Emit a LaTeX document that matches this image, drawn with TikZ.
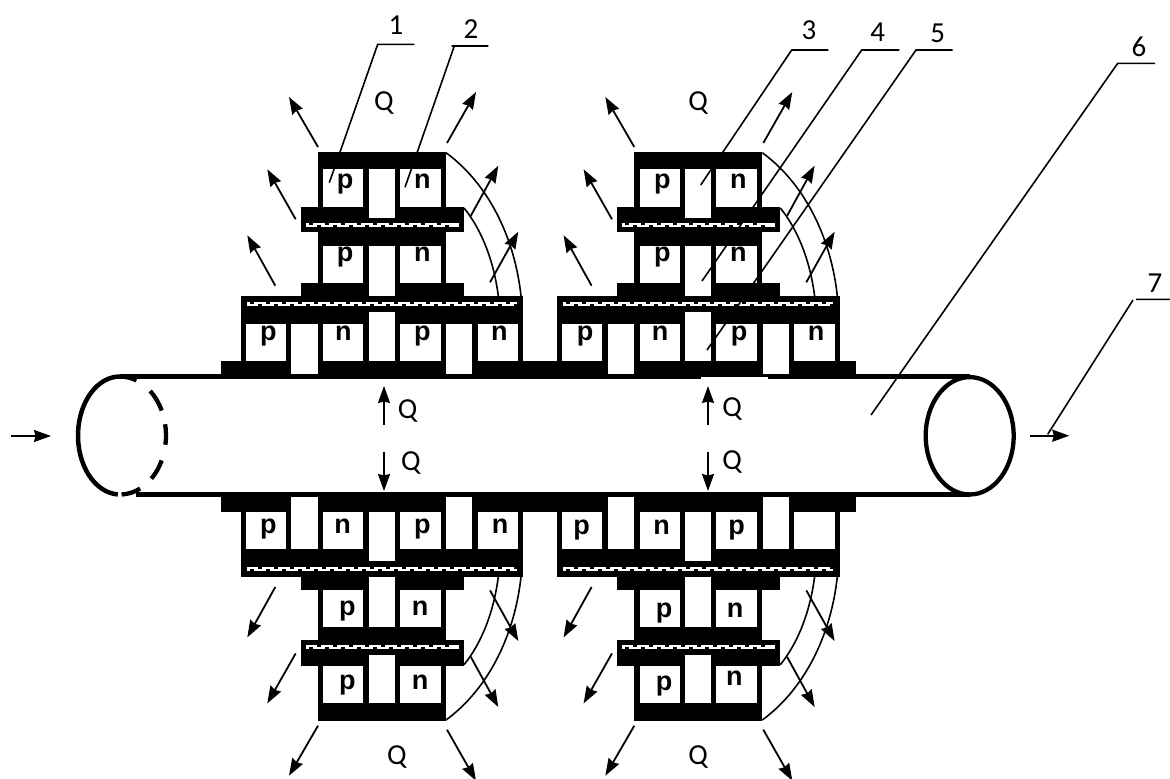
\documentclass[tikz,border=0pt]{standalone}
\usepackage{fontspec}
\setmainfont{Carlito}
\newfontfamily\pnfont{Liberation Sans}[BoldFont={Liberation Sans Bold}]
\usetikzlibrary{arrows, arrows.meta}

\tikzset{
  heatarrow/.style={line width=1.8pt,-{Stealth[length=17pt,width=12pt,inset=1.5pt]}},
  leader/.style={line width=1.6pt},
  wire/.style={line width=1.6pt},
  tube/.style={line width=5pt},
  pnlabel/.style={anchor=base,inner sep=0pt,font=\pnfont\bfseries\fontsize{27}{27}\selectfont},
  txtlabel/.style={inner sep=0pt,font=\fontsize{29}{29}\selectfont}
}

% one thermopile, drawn in pixel coordinates
\newcommand{\serration}[3]{%
  \fill[white] (#1,#3) rectangle (#2,#3+4);
  \pgfmathsetmacro{\serlast}{#2-14}
  \pgfmathsetmacro{\sernext}{#1+16}
  \foreach \sx in {#1,\sernext,...,\serlast}{
    \fill[black] (\sx+3,#3) rectangle (\sx+7,#3+2);
    \fill[black] (\sx+11,#3+2) rectangle (\sx+15,#3+4);
  }
}
\newcommand{\module}{%
  \fill[black] (318,152) rectangle (446,207); %top cap
  \fill[black] (300.7,207) rectangle (464,232.3); %plate
  \fill[black] (318,232) rectangle (446,283);
  \fill[black] (300.7,283) rectangle (464,296);
  \fill[black] (240.7,296) rectangle (523.3,361); %big plate
  \fill[black] (220.7,361) rectangle (540,376); %base
  % cells and gaps
  \foreach \xa/\xb/\ya/\yb in {323.3/363.3/169.3/206.7, 400/440.7/169.3/206.7, 369/395/169.3/217.7,
    323.3/363.3/245.7/282.7, 400/440.7/245.7/282.7, 369/395/245.7/296,
    245.7/286/324/361, 291.3/317.7/324/375.5, 323.3/363.3/324/361, 369/395/311.7/361,
    400/440.7/324/361, 446.3/472.3/324/375.5, 477.7/518.3/324/361}{
    \fill[white] (\xa,\ya) rectangle (\xb,\yb);
  }
  \serration{306}{459}{223.3}
  \serration{246.7}{517}{302}
  % wires
  \draw[wire] (446,152.7) .. controls (490,185) and (515,240) .. (521,296);
  \draw[wire] (464,208) .. controls (482,230) and (494,262) .. (498.3,296);
  % heat arrows
  \draw[heatarrow] (318,147) -- (289,97);
  \draw[heatarrow] (447,143) -- (476,92);
  \draw[heatarrow] (295.7,219.3) -- (267.3,169.3);
  \draw[heatarrow] (275.3,285.7) -- (247.3,235.3);
  \draw[heatarrow] (470.7,216) -- (498.3,165.7);
  \draw[heatarrow] (490,282.3) -- (518.3,231.7);
}

\begin{document}
\begin{tikzpicture}[x=1pt,y=-1pt]
\useasboundingbox (0,0) rectangle (1170,779);

\begin{scope}\module\end{scope}
\begin{scope}[xshift=316.3pt]\module\end{scope}
\begin{scope}[yshift=-872.7pt,yscale=-1]\module\end{scope}
\begin{scope}[xshift=316.3pt,yshift=-872.7pt,yscale=-1]\module\end{scope}

% tube
\draw[tube] (120,376.5) -- (970,376.5);
\draw[tube] (136,494.3) -- (970,494.3);
\fill[white] (701,376.8) rectangle (768,380);
\draw[line width=4.5pt] (120,435.5) ++(93:42 and 59) arc[start angle=93,end angle=270,x radius=42,y radius=59];
\foreach \ta/\tb in {-90/-69,-49/-25,-11/9,25/47,64/88}{
  \draw[line width=4.3pt] (120,435.5) ++(\ta:46 and 59) arc[start angle=\ta,end angle=\tb,x radius=46,y radius=59];
}
\draw[line width=4.3pt] (969.7,435.8) ellipse[x radius=44,y radius=58.7];

% flow arrows
\coordinate (inA) at (11,436); \coordinate (inB) at (51,436);
\coordinate (outA) at (1030,435.7); \coordinate (outB) at (1069.3,435.7);
\draw[heatarrow] (inA) -- (inB);
\draw[heatarrow] (outA) -- (outB);

% heat into and out of the tube
\foreach \qx in {384,708}{
  \draw[heatarrow] (\qx,425) -- (\qx,386);
  \draw[heatarrow] (\qx,451.7) -- (\qx,491);
}
\node[txtlabel] (q1) at (407.7,411) {Q};
\node[txtlabel] (q2) at (411,463) {Q};
\node[txtlabel] (q3) at (732,409) {Q};
\node[txtlabel] (q4) at (732,462) {Q};
\node[txtlabel] (q5) at (384,103) {Q};
\node[txtlabel] (q6) at (698,103) {Q};
\node[txtlabel] (q7) at (397,757) {Q};
\node[txtlabel] (q8) at (698,757) {Q};

% p and n legs
\foreach \nm/\txt/\x/\y in {a1/p/345/188, a2/n/422.3/188, a3/p/345/261.7, a4/n/422.3/261.7,
  a5/p/268.3/340.7, a6/n/343.3/340.7, a7/p/422.3/340.7, a8/n/499.3/340.7,
  b1/p/662.3/188, b2/n/738.3/188, b3/p/662.3/261.7, b4/n/738.3/261.7,
  b5/p/585/340.7, b6/n/660/340.7, b7/p/739/340.7, b8/n/816/340.7,
  c1/p/268.3/533.3, c2/n/342.7/533.3, c3/p/422.3/533.3, c4/n/500/533.3,
  c5/p/347.3/615, c6/n/420/615, c7/p/347.3/689, c8/n/420/689,
  d1/p/581.7/534, d2/n/661.7/534, d3/p/736.7/534,
  d4/p/664/617.7, d5/n/735/617.7, d6/p/664/690, d7/n/734.3/685}{
  \node[pnlabel] (\nm) at (\x,\y) {\txt};
}

% numbered leaders
\node[txtlabel] (n1) at (396,25) {1};
\node[txtlabel] (n2) at (471,29) {2};
\node[txtlabel] (n3) at (809,30) {3};
\node[txtlabel] (n4) at (877.7,31.7) {4};
\node[txtlabel] (n5) at (937.7,33) {5};
\node[txtlabel] (n6) at (1139,46.7) {6};
\node[txtlabel] (n7) at (1155,283) {7};

\coordinate (e1) at (329.3,182.7);
\coordinate (e2) at (405,187.3);
\coordinate (e3) at (700.7,185);
\coordinate (e4) at (702,281);
\coordinate (e5) at (707,350);
\coordinate (e6) at (871,415);
\coordinate (e7) at (1047.7,434.3);
\draw[leader] (414.3,44.3) -- (377.7,44.3) -- (e1);
\draw[leader] (488.3,46) -- (451.7,46) (454.3,46) -- (e2);
\draw[leader] (828.3,50) -- (791.7,50) -- (e3);
\draw[leader] (899.3,50) -- (861.7,50) -- (e4);
\draw[leader] (952.7,50) -- (916,50) -- (e5);
\draw[leader] (1155,63.3) -- (1117.7,63.3) -- (e6);
\draw[leader] (1170,299.3) -- (1136,299.3) (1133,300) -- (e7);
\end{tikzpicture}
\end{document}
